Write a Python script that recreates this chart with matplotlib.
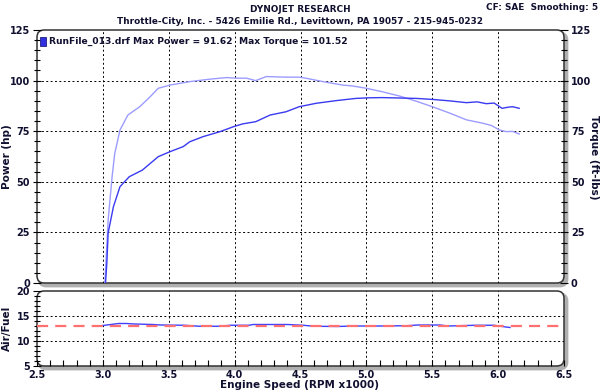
import matplotlib
matplotlib.use("Agg")
import matplotlib.pyplot as plt
from matplotlib.patches import FancyBboxPatch, Rectangle
from matplotlib.ticker import MultipleLocator

# ── data ───────────────────────────────────────────────
pwr_rpm = [3.02, 3.03, 3.04, 3.08, 3.13, 3.20, 3.30, 3.42, 3.51, 3.61, 3.66, 3.76,
           3.89, 3.99, 4.06, 4.16, 4.27, 4.39, 4.49, 4.62, 4.77, 4.92, 5.02, 5.12,
           5.25, 5.38, 5.50, 5.63, 5.76, 5.84, 5.91, 5.97, 6.03, 6.08, 6.11, 6.16]
pwr_hp  = [0.0, 9.7, 24.7, 37.7, 47.6, 52.5, 55.8, 62.4, 64.9, 67.4, 69.8, 72.3,
           74.8, 77.2, 78.6, 79.7, 83.0, 84.6, 87.1, 88.8, 90.1, 91.2, 91.5, 91.6,
           91.4, 91.2, 90.7, 90.0, 89.1, 89.5, 88.6, 88.9, 86.3, 86.9, 87.1, 86.3]

trq_rpm = [3.015, 3.04, 3.07, 3.09, 3.13, 3.19, 3.28, 3.36, 3.42, 3.51, 3.66, 3.81,
           3.94, 4.01, 4.09, 4.16, 4.24, 4.39, 4.49, 4.54, 4.67, 4.82, 4.90, 5.00,
           5.12, 5.25, 5.38, 5.50, 5.63, 5.76, 5.88, 5.95, 6.01, 6.06, 6.11, 6.16]
trq_ft  = [0.0, 31.0, 52.5, 64.0, 75.6, 83.0, 87.1, 92.1, 96.2, 97.8, 99.5, 100.7,
           101.5, 101.2, 101.2, 100.0, 102.0, 101.7, 101.7, 101.2, 99.5, 97.8, 97.3, 96.2,
           94.5, 92.4, 89.8, 87.1, 84.0, 80.6, 79.0, 77.8, 75.6, 74.8, 74.9, 73.6]

afr_rpm = [3.00, 3.06, 3.12, 3.18, 3.24, 3.38, 3.44, 3.62, 3.73, 3.88, 3.97, 4.11,
           4.14, 4.40, 4.52, 4.60, 4.78, 4.90, 5.10, 5.30, 5.39, 5.56, 5.62, 5.83,
           5.97, 6.03, 6.09]
afr_val = [13.1, 13.3, 13.5, 13.5, 13.4, 13.3, 13.2, 13.15, 12.95, 12.95, 13.15, 13.15,
           13.3, 13.3, 13.15, 12.95, 12.9, 13.0, 13.0, 13.05, 13.2, 13.2, 13.0, 13.15,
           13.15, 12.9, 12.7]
afr_target = 13.0

x_ticks = [2.5, 3.0, 3.5, 4.0, 4.5, 5.0, 5.5, 6.0, 6.5]
max_power = 91.62
max_torque = 101.52

# ── colours ────────────────────────────────────────────
C_PWR = "#3a3af0"
C_TRQ = "#9c9cff"
C_AFR = "#3f3fff"
C_TGT = "#ff7070"
C_TXT = "#101030"

plt.rcParams["font.family"] = "DejaVu Sans"
plt.rcParams["font.weight"] = "bold"

W, H = 600, 392
fig = plt.figure(figsize=(W / 100, H / 100), dpi=100)


def ax_rect(l, t, r, b):
    return [l / W, 1 - b / H, (r - l) / W, (b - t) / H]


ax = fig.add_axes(ax_rect(37, 30, 564, 283))
ax2 = fig.add_axes(ax_rect(37, 291, 564, 366))


def frame(a):
    for s in a.spines.values():
        s.set_visible(False)
    a.patch.set_visible(False)
    bb = a.get_position()
    shadow = FancyBboxPatch((bb.x0 + 2 / W, bb.y0 - 3 / H), bb.width + 1 / W, bb.height,
                            boxstyle="round,pad=0,rounding_size=0.012",
                            mutation_aspect=W / H, transform=fig.transFigure,
                            facecolor="#b0b0b0", edgecolor="#b0b0b0", lw=2.0, zorder=-2)
    box = FancyBboxPatch((bb.x0, bb.y0), bb.width, bb.height,
                         boxstyle="round,pad=0,rounding_size=0.012",
                         mutation_aspect=W / H, transform=fig.transFigure,
                         facecolor="white", edgecolor="#333333", lw=1.1, zorder=-1)
    fig.patches.extend([shadow, box])


frame(ax)
frame(ax2)

grid_kw = dict(color="black", lw=0.7, ls=(0, (2, 2.5)), zorder=1)
tick_fs = 7
lab_fs = 7.5

# ── main: power / torque ──────────────────────────────
ax.set_xlim(2.5, 6.5)
ax.set_ylim(0, 125)
for xv in x_ticks[1:-1]:
    ax.axvline(xv, **grid_kw)
for yv in [25, 50, 75, 100]:
    ax.axhline(yv, **grid_kw)
ax.plot(trq_rpm, trq_ft, color=C_TRQ, lw=1.0, zorder=3)
ax.plot(pwr_rpm, pwr_hp, color=C_PWR, lw=1.0, zorder=4)

ax.set_xticks(x_ticks)
ax.tick_params(axis="x", length=0, labelbottom=False)
ax.yaxis.set_major_locator(MultipleLocator(25))
ax.yaxis.set_minor_locator(MultipleLocator(5))
ax.tick_params(axis="y", which="both", direction="inout", length=6, width=0.8,
               labelsize=tick_fs, labelcolor=C_TXT, left=True, right=True,
               labelleft=True, labelright=True, pad=2)
ax.tick_params(axis="y", which="minor", length=5)
fig.text(7 / W, 1 - 157 / H, "Power (hp)", rotation=90, ha="center", va="center",
         fontsize=lab_fs, color=C_TXT)
fig.text(594 / W, 1 - 157 / H, "Torque (ft-lbs)", rotation=-90, ha="center",
         va="center", fontsize=lab_fs, color=C_TXT)

# legend line inside the chart
ax.add_patch(Rectangle((0.006, 0.935), 0.011, 0.038, transform=ax.transAxes,
                       facecolor="#3030e0", edgecolor="#202080", lw=0.6, zorder=5))
ax.text(0.022, 0.953, f"RunFile_013.drf Max Power = {max_power:.2f}",
        transform=ax.transAxes, fontsize=6.6, color=C_TXT, va="center", zorder=5)
ax.text(0.383, 0.953, f"Max Torque = {max_torque:.2f}",
        transform=ax.transAxes, fontsize=6.6, color=C_TXT, va="center", zorder=5)

# ── lower: air/fuel ───────────────────────────────────
ax2.set_xlim(2.5, 6.5)
ax2.set_ylim(5, 20)
for xv in x_ticks[1:-1]:
    ax2.axvline(xv, **grid_kw)
for yv in [10, 15]:
    ax2.axhline(yv, **grid_kw)
ax2.axhline(afr_target, color=C_TGT, lw=1.6, ls=(0, (5, 3.2)), zorder=3)
ax2.plot(afr_rpm, afr_val, color=C_AFR, lw=1.0, zorder=2)

ax2.set_xticks(x_ticks)
ax2.xaxis.set_minor_locator(MultipleLocator(0.1))
ax2.set_xticklabels([f"{v:.1f}" for v in x_ticks])
ax2.tick_params(axis="x", which="both", direction="in", length=4, width=0.8,
                labelsize=tick_fs, labelcolor=C_TXT, pad=3)
ax2.yaxis.set_major_locator(MultipleLocator(5))
ax2.yaxis.set_minor_locator(MultipleLocator(1))
ax2.tick_params(axis="y", which="both", direction="inout", length=6, width=0.8,
                labelsize=tick_fs, labelcolor=C_TXT, pad=2)
ax2.tick_params(axis="y", which="minor", length=5)
fig.text(7 / W, 1 - 328 / H, "Air/Fuel", rotation=90, ha="center", va="center",
         fontsize=lab_fs, color=C_TXT)
fig.text(0.5, 1 - 385 / H, "Engine Speed (RPM x1000)", ha="center", va="center",
         fontsize=lab_fs, color=C_TXT)

# ── header ────────────────────────────────────────────
fig.text(0.5, 1 - 9 / H, "DYNOJET RESEARCH", ha="center", va="center",
         fontsize=6.4, color=C_TXT)
fig.text(0.5, 1 - 21 / H,
         "Throttle-City, Inc. - 5426 Emilie Rd., Levittown, PA 19057 - 215-945-0232",
         ha="center", va="center", fontsize=6.4, color=C_TXT)
fig.text(1 - 2 / W, 1 - 8 / H, "CF: SAE  Smoothing: 5", ha="right", va="center",
         fontsize=6.4, color=C_TXT)

fig.savefig("out.png", dpi=100)
